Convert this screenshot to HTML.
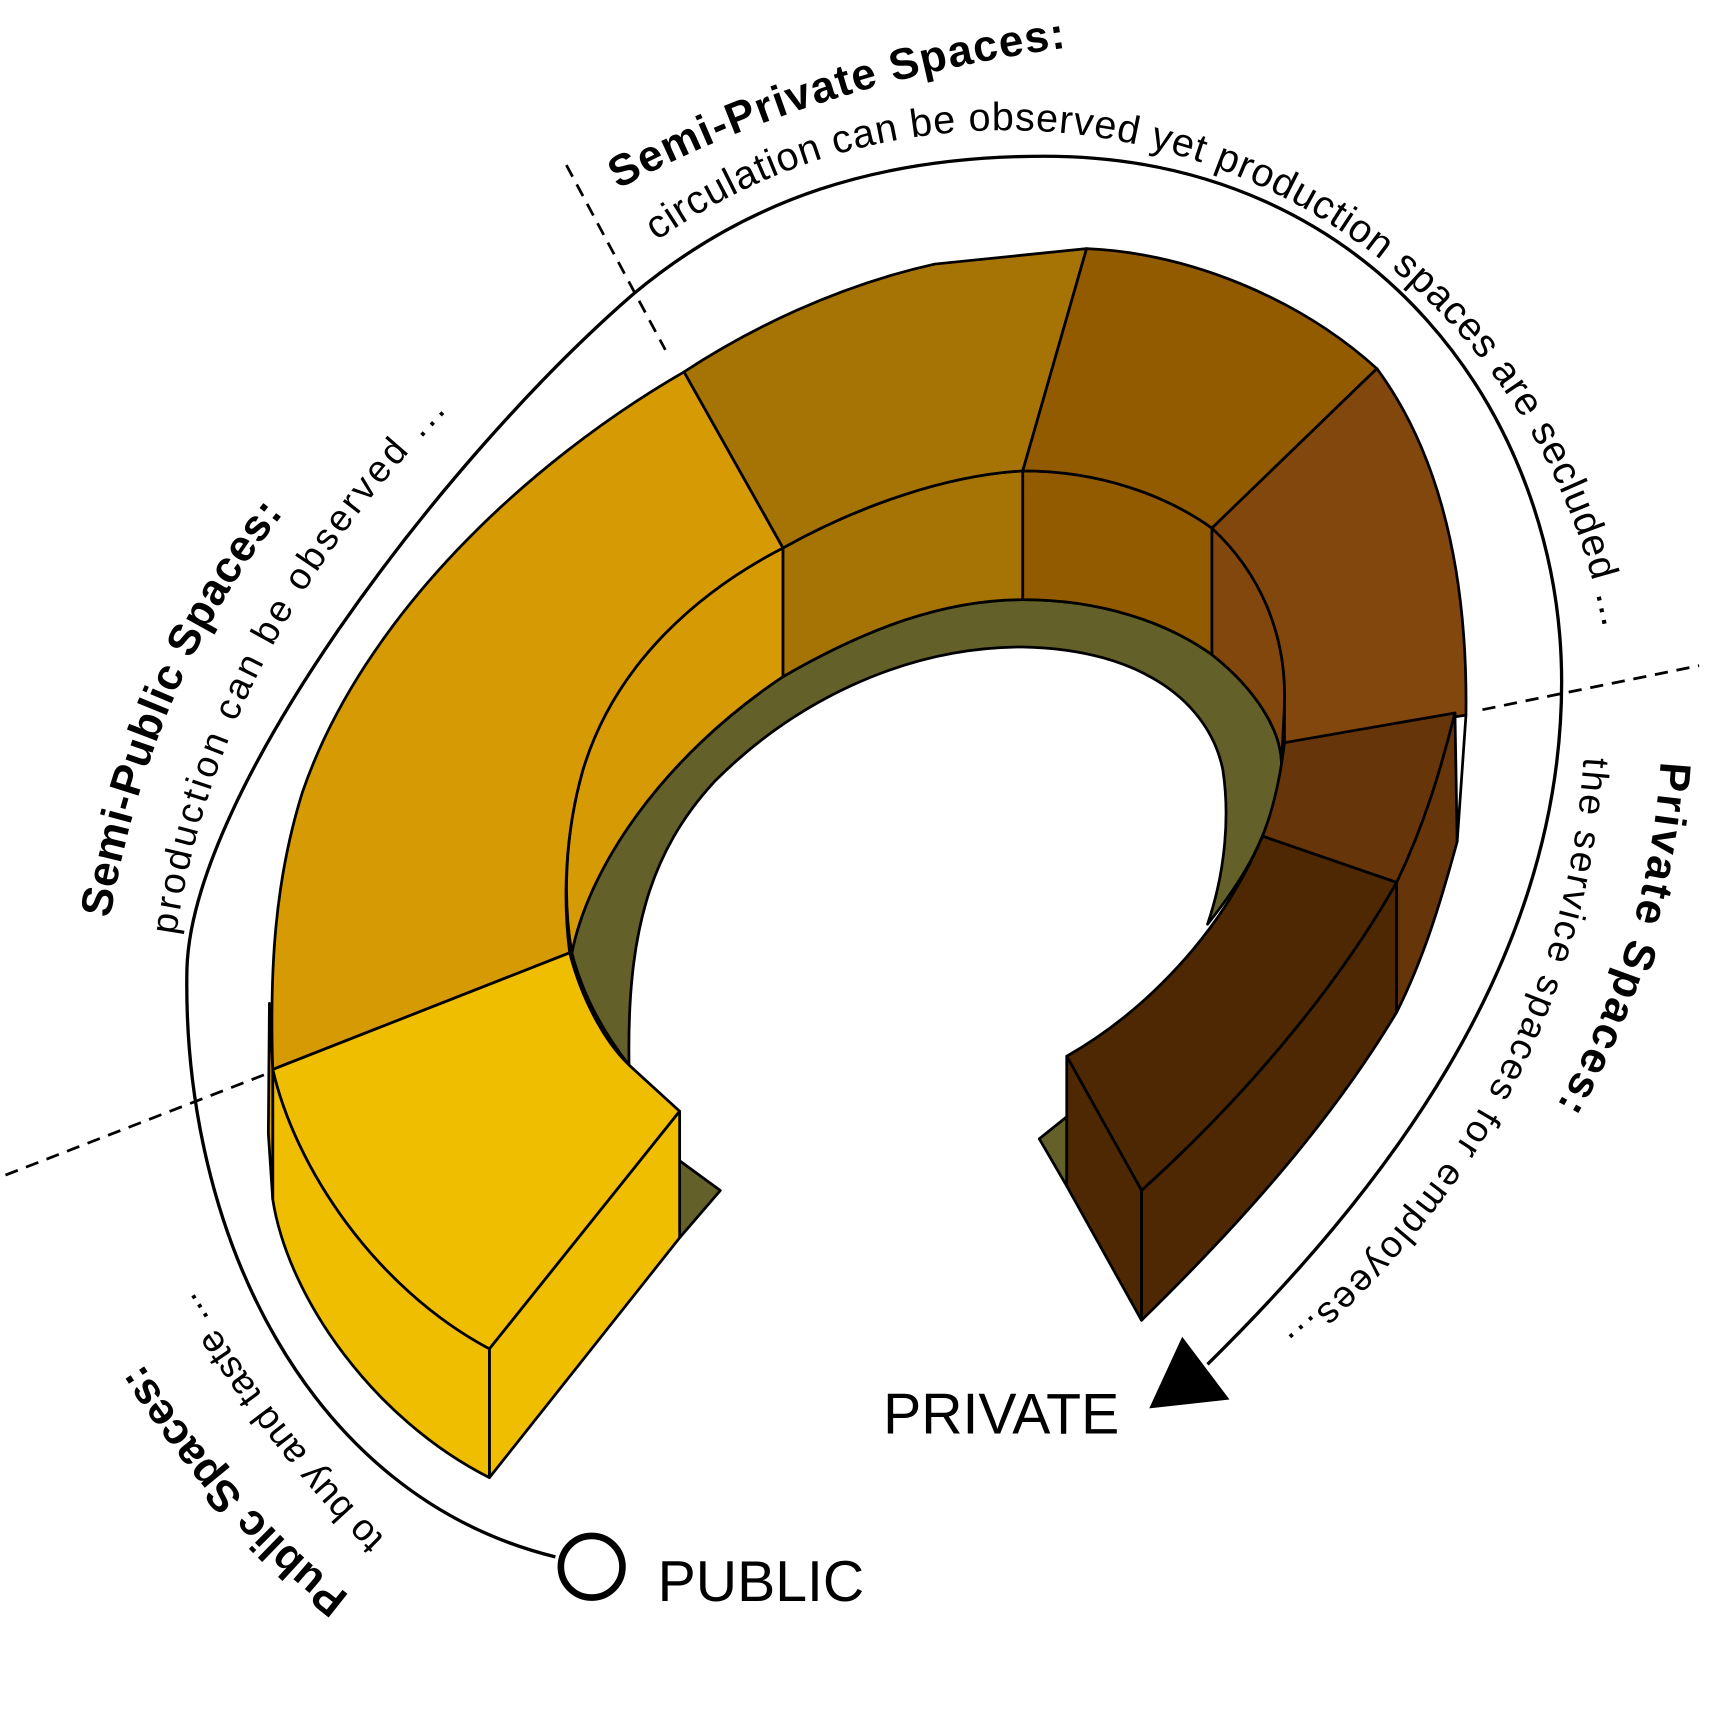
<!DOCTYPE html>
<html><head><meta charset="utf-8"><style>
html,body{margin:0;padding:0;background:#fff;}
svg{display:block;}
text{font-family:"Liberation Sans",sans-serif;fill:#000;}
</style></head><body>
<svg width="1720" height="1723" viewBox="0 0 1564 1566" preserveAspectRatio="none" xmlns="http://www.w3.org/2000/svg">
<defs>
<path id="pCirc" d="M597,219 A552,552 0 0 1 1448,813"/>
<path id="pSemiPriv" d="M562,172 Q750,70 995,40"/>
<path id="pSemiPub" d="M100,835 Q140,600 280,440"/>
<path id="pProd" d="M160,850 Q200,580 420,360"/>
<path id="pPriv" d="M1510,692 Q1500,860 1410,1015"/>
<path id="pServ" d="M1440,688 Q1420,1010 1150,1232"/>
<path id="pPub" d="M318,1450 Q200,1360 105,1200"/>
<path id="pBuy" d="M350,1398 Q250,1300 155,1140"/>
</defs>

<path d="M505,1415 C280,1360 165,1120 170,880 C175,720 400,420 575,268 C680,180 800,142 950,142 C1250,142 1420,380 1420,620 C1420,880 1250,1090 1098,1240" fill="none" stroke="#000" stroke-width="3"/>
<polygon points="1075,1215 1045,1280 1118,1272" fill="#000"/>
<circle cx="538" cy="1424" r="28" fill="#fff" stroke="#000" stroke-width="6"/>

<g stroke="#000" stroke-width="2.5" stroke-dasharray="12,8">
<line x1="515" y1="150" x2="605" y2="318"/>
<line x1="1348" y1="645" x2="1545" y2="605"/>
<line x1="5" y1="1068" x2="245" y2="975"/>
</g>

<g stroke="#000" stroke-width="2.5" stroke-linejoin="round">
<polygon points="618,1055 655,1082 618,1125" fill="#636029"/>
<polygon points="945,1035 970,1015 970,1078" fill="#636029"/>
<path fill="#636029" d="M520,866 C535,790 600,690 712,615 C790,570 860,545 930,545 C1000,545 1060,565 1102,595 C1140,625 1168,665 1165,700 C1155,760 1130,800 1098,840 C1115,790 1118,740 1112,700 C1100,640 1040,590 930,588 C820,588 720,640 650,710 C590,775 570,850 572,968 C550,940 530,905 520,866 Z"/>
<path fill="#D69A05" d="M712,498 C640,535 560,600 530,700 C513,760 512,820 520,866 C535,790 600,690 712,615 Z"/>
<path fill="#A67404" d="M712,498 C780,460 860,432 930,428 L930,545 C860,545 790,570 712,615 Z"/>
<path fill="#935B00" d="M930,428 C1000,428 1060,450 1102,480 L1102,595 C1060,565 1000,545 930,545 Z"/>
<path fill="#82470C" d="M1102,480 C1145,520 1170,575 1168,640 L1165,700 C1168,665 1140,625 1102,595 Z"/>
<path fill="#D69A05" d="M622,338 C480,420 330,560 275,720 C250,800 245,880 248,972 L518,866 C512,820 513,760 530,700 C560,600 640,535 712,498 Z"/>
<path fill="#A67404" d="M622,338 C680,300 760,260 850,240 L988,226 L930,428 C860,432 780,460 712,498 Z"/>
<path fill="#935B00" d="M988,226 C1080,230 1180,270 1252,335 L1102,480 C1060,450 1000,428 930,428 Z"/>
<path fill="#82470C" d="M1252,335 C1300,400 1335,500 1333,650 L1168,675 L1168,640 C1170,575 1145,520 1102,480 Z"/>
<path fill="#66350A" d="M1168,675 L1323,648 C1310,700 1295,750 1270,802 L1148,760 C1160,730 1165,700 1168,675 Z"/>
<path fill="#4E2703" d="M1148,760 L1270,802 C1220,890 1140,990 1038,1082 L970,960 C1040,920 1110,850 1148,760 Z"/>
<path fill="#4E2703" d="M970,960 L1038,1082 L1038,1200 L970,1078 Z"/>
<path fill="#4E2703" d="M1038,1082 C1140,990 1220,890 1270,802 L1270,920 C1210,1020 1130,1110 1038,1200 Z"/>
<path fill="#66350A" d="M1270,802 C1295,750 1310,700 1323,648 L1325,765 C1310,820 1295,870 1270,920 Z"/>
<path fill="none" d="M1333,650 L1325,765"/>
<path fill="#F0BE00" d="M248,972 L518,866 C528,905 548,945 572,968 L618,1010 L445,1226 C340,1170 268,1060 248,972 Z"/>
<path fill="#F0BE00" d="M445,1226 L618,1010 L618,1125 L445,1343 Z"/>
<path fill="#F0BE00" d="M248,972 C268,1060 340,1170 445,1226 L445,1343 C340,1290 262,1180 248,1090 Z"/>
<path fill="#D69A05" d="M245,912 L248,972 L248,1090 L244,1030 Z"/>
</g>

<text font-size="36"><textPath href="#pCirc" textLength="1105" lengthAdjust="spacing">circulation can be observed yet production spaces are secluded ...</textPath></text>
<text font-size="40" font-weight="bold"><textPath href="#pSemiPriv" textLength="430" lengthAdjust="spacing">Semi-Private Spaces:</textPath></text>
<text font-size="40" font-weight="bold"><textPath href="#pSemiPub" textLength="405" lengthAdjust="spacing">Semi-Public Spaces:</textPath></text>
<text font-size="34"><textPath href="#pProd" textLength="545" lengthAdjust="spacing">production can be observed ...</textPath></text>
<text font-size="40" font-weight="bold"><textPath href="#pPriv" textLength="330" lengthAdjust="spacing">Private Spaces:</textPath></text>
<text font-size="34"><textPath href="#pServ" textLength="610" lengthAdjust="spacing">the service spaces for employees...</textPath></text>
<text font-size="40" font-weight="bold"><textPath href="#pPub" textLength="285" lengthAdjust="spacing">Public Spaces:</textPath></text>
<text font-size="34"><textPath href="#pBuy" textLength="285" lengthAdjust="spacing">to buy and taste ...</textPath></text>

<text x="803" y="1303" font-size="52">PRIVATE</text>
<text x="598" y="1455" font-size="52">PUBLIC</text>
</svg>
</body></html>
